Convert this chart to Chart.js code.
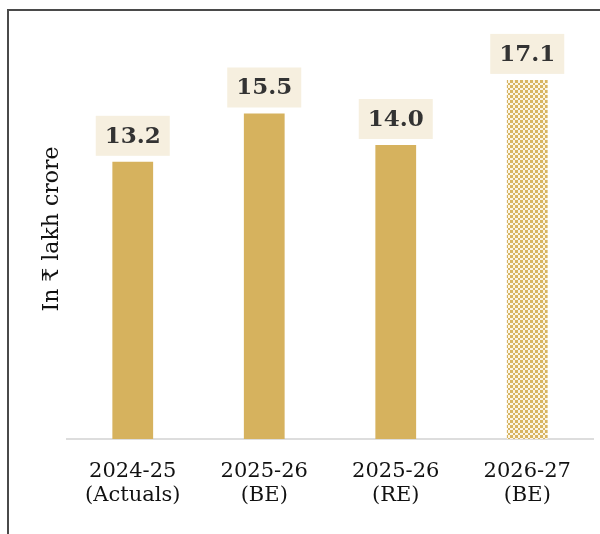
<!DOCTYPE html>
<html>
<head>
<meta charset="utf-8">
<script src="https://cdn.jsdelivr.net/npm/chart.js@4"></script>
<style>
  html, body { margin: 0; padding: 0; background: #fff; }
  #wrap { width: 600px; height: 534px; position: relative; }
</style>
</head>
<body>
<div id="wrap"><canvas id="c" width="600" height="534"></canvas></div>
<script>
const categories = [["2024-25", "(Actuals)"], ["2025-26", "(BE)"], ["2025-26", "(RE)"], ["2026-27", "(BE)"]];
const values = [13.2, 15.5, 14.0, 17.1];
const valueLabels = ["13.2", "15.5", "14.0", "17.1"];
const axisTitle = "In ₹ lakh crore";

const GOLD = '#d6b25e';

function makePattern() {
  const p = document.createElement('canvas');
  p.width = 5; p.height = 5;
  const g = p.getContext('2d');
  g.fillStyle = '#fbf5e6';
  g.fillRect(0, 0, 5, 5);
  g.fillStyle = '#d8b562';
  g.fillRect(0, 0, 3, 3);
  g.fillRect(3, 3, 2, 2);
  return g.createPattern(p, 'repeat');
}

const ctx = document.getElementById('c').getContext('2d');
const pattern = makePattern();

const frame = {
  id: 'frame',
  beforeDraw(chart) {
    const c = chart.ctx;
    c.save();
    c.strokeStyle = '#4a4a4a';
    c.lineWidth = 2;
    c.beginPath();
    c.moveTo(8, 534);
    c.lineTo(8, 10);
    c.lineTo(600, 10);
    c.stroke();
    c.restore();
  }
};

const valueBoxes = {
  id: 'valueBoxes',
  afterDatasetsDraw(chart) {
    const c = chart.ctx;
    const meta = chart.getDatasetMeta(0);
    c.save();
    c.font = 'bold 23px "DejaVu Serif", serif';
    c.textAlign = 'center';
    c.textBaseline = 'middle';
    meta.data.forEach((bar, i) => {
      const txt = valueLabels[i];
      const w = c.measureText(txt).width + 18;
      const h = 40;
      const bottom = bar.y - 6;
      c.fillStyle = '#f6efdf';
      c.fillRect(bar.x - w / 2, bottom - h, w, h);
      c.fillStyle = '#333333';
      c.fillText(txt, bar.x, bottom - h / 2 + 1);
    });
    c.restore();
  }
};

new Chart(ctx, {
  type: 'bar',
  data: {
    labels: categories,
    datasets: [{
      data: values,
      backgroundColor: [GOLD, GOLD, GOLD, pattern],
      borderWidth: 0,
      barPercentage: 0.62,
      categoryPercentage: 0.5
    }]
  },
  options: {
    responsive: false,
    animation: false,
    devicePixelRatio: 1,
    layout: { padding: { left: 40, right: 7, top: 19, bottom: 0 } },
    plugins: {
      legend: { display: false },
      tooltip: { enabled: false }
    },
    scales: {
      x: {
        grid: { display: false, drawTicks: false },
        border: { display: true, color: '#dddddd', width: 2 },
        ticks: {
          color: '#111111',
          padding: 21,
          maxRotation: 0,
          font: { family: '"DejaVu Serif", serif', size: 21, lineHeight: '24px' }
        },
        afterFit(scale) { scale.height = 95; }
      },
      y: {
        min: 0,
        max: 20,
        grid: { display: false, drawTicks: false },
        border: { display: false },
        ticks: { display: false },
        title: {
          display: true,
          text: axisTitle,
          color: '#111111',
          padding: 0,
          font: { family: '"DejaVu Serif", serif', size: 22, lineHeight: '24px' }
        },
        afterFit(scale) { scale.width = 27; }
      }
    }
  },
  plugins: [frame, valueBoxes]
});
</script>
</body>
</html>
